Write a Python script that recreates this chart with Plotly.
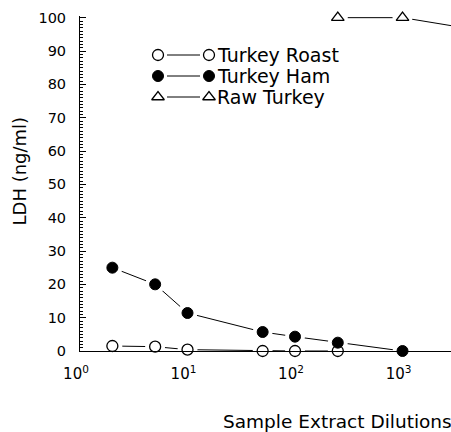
import plotly.graph_objects as go

# ---- data ----
dil_roast = [2, 5, 10, 50, 100, 250]
ldh_roast = [1.5, 1.3, 0.4, 0.0, 0.0, 0.0]

dil_ham = [2, 5, 10, 50, 100, 250, 1000]
ldh_ham = [25.0, 20.0, 11.4, 5.7, 4.3, 2.5, 0.0]

dil_raw = [250, 1000, 5000]
ldh_raw = [100.0, 100.0, 96.3]

series_names = ["Turkey Roast", "Turkey Ham", "Raw Turkey"]

x_tickvals = [1, 10, 100, 1000]
x_ticktext = ["10<sup>0</sup>", "10<sup>1</sup>", "10<sup>2</sup>", "10<sup>3</sup>"]
y_tickvals = [0, 10, 20, 30, 40, 50, 60, 70, 80, 90, 100]
y_ticktext = [str(v) for v in y_tickvals]

x_title = "Sample Extract Dilutions"
y_title = "LDH (ng/ml)"

# ---- layout geometry (pixels) ----
W, H = 451, 432
L, R, T, B = 80, 451, 16, 351
FONT = "DejaVu Sans"


def px_x(px):
    return (px - L) / (R - L)


def px_y(py):
    return (B - py) / (B - T)


styles = [
    dict(symbol="circle", color="white", line=dict(color="black", width=1.3), size=11),
    dict(symbol="circle", color="black", line=dict(color="black", width=1), size=11),
    dict(symbol="triangle-up", color="white", line=dict(color="black", width=1.3), size=11),
]
data = [(dil_roast, ldh_roast), (dil_ham, ldh_ham), (dil_raw, ldh_raw)]

fig = go.Figure()

# lines
for (xs, ys) in data:
    fig.add_trace(go.Scatter(x=xs, y=ys, mode="lines",
                             line=dict(color="black", width=1),
                             showlegend=False, hoverinfo="skip"))
# white halos to create gaps between line and marker
for (xs, ys), st in zip(data, styles):
    fig.add_trace(go.Scatter(x=xs, y=ys, mode="markers",
                             marker=dict(symbol="circle", color="white", size=st["size"] + 9,
                                         line=dict(width=0)),
                             cliponaxis=False, showlegend=False, hoverinfo="skip"))
# markers
for (xs, ys), st, name in zip(data, styles, series_names):
    fig.add_trace(go.Scatter(x=xs, y=ys, mode="markers", name=name,
                             marker=st, cliponaxis=False, showlegend=False))

# ---- custom legend on a pixel-coordinate overlay axis ----
leg_rows = [55, 76, 97]
leg_m1, leg_l1, leg_l2, leg_m2, leg_text = 158, 167, 200, 209, 215
for st, name, ry in zip(styles, series_names, leg_rows):
    fig.add_trace(go.Scatter(x=[leg_l1, leg_l2], y=[ry, ry], mode="lines",
                             line=dict(color="black", width=1),
                             xaxis="x2", yaxis="y2", showlegend=False, hoverinfo="skip"))
    fig.add_trace(go.Scatter(x=[leg_m1, leg_m2], y=[ry, ry], mode="markers",
                             marker=st, xaxis="x2", yaxis="y2", cliponaxis=False,
                             showlegend=False, hoverinfo="skip"))
    fig.add_annotation(x=px_x(leg_text), y=px_y(ry), xref="paper", yref="paper", text=name,
                       showarrow=False, xanchor="left", yanchor="middle",
                       font=dict(family=FONT, size=19, color="black"))

# axis titles
fig.add_annotation(x=px_x(18.5), y=px_y(171), xref="paper", yref="paper", text=y_title,
                   textangle=-90, showarrow=False, xanchor="center", yanchor="middle",
                   font=dict(family=FONT, size=18, color="black"))
fig.add_annotation(x=1, y=px_y(421), xref="paper", yref="paper", text=x_title,
                   showarrow=False, xanchor="right", yanchor="middle", xshift=3,
                   font=dict(family=FONT, size=18.5, color="black"))

fig.update_layout(
    width=W, height=H,
    margin=dict(l=L, r=W - R, t=T, b=H - B, pad=0),
    paper_bgcolor="white", plot_bgcolor="white",
    font=dict(family=FONT, size=14, color="black"),
    showlegend=False,
    xaxis=dict(type="log", range=[0, 3.451], showline=True, linecolor="black", linewidth=1,
               ticks="", tickvals=x_tickvals, ticktext=x_ticktext,
               tickfont=dict(family=FONT, size=15, color="black"),
               showgrid=False, zeroline=False, ticklabelstandoff=9, ticklabelshift=-4),
    yaxis=dict(range=[0, 100.5], showline=True, linecolor="black", linewidth=1,
               ticks="inside", ticklen=6, tickwidth=1, tickcolor="black",
               tickvals=y_tickvals, ticktext=y_ticktext,
               minor=dict(dtick=1, ticks="inside", ticklen=3, tickwidth=1, tickcolor="black"),
               tickfont=dict(family=FONT, size=14.5, color="black"),
               showgrid=False, zeroline=False, ticklabelstandoff=10),
    xaxis2=dict(overlaying="x", range=[L, R], visible=False, fixedrange=True),
    yaxis2=dict(overlaying="y", range=[B, T], visible=False, fixedrange=True),
)

fig.write_html("out.html")
